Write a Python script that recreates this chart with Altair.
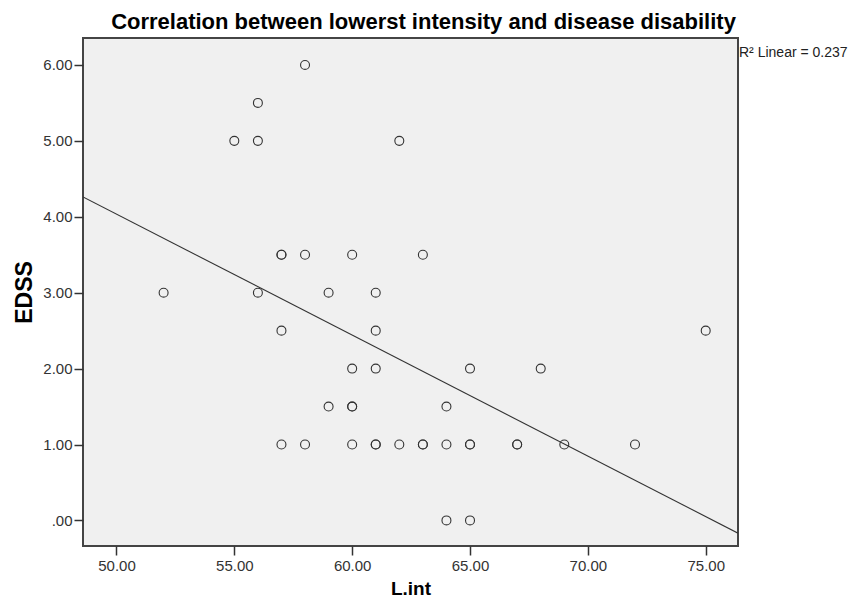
import altair as alt
import pandas as pd

# L.int values (x) and EDSS values (y); repeated pairs are overlapping cases
lint = [58, 56, 55, 56, 62,
        57, 57, 58, 60, 63,
        52, 56, 59, 61,
        57, 61, 75,
        60, 61, 65, 68,
        59, 60, 60, 64,
        57, 58, 60, 61, 61, 62, 63, 63, 64, 65, 65, 67, 67, 69, 72,
        64, 65]
edss = [6.0, 5.5, 5.0, 5.0, 5.0,
        3.5, 3.5, 3.5, 3.5, 3.5,
        3.0, 3.0, 3.0, 3.0,
        2.5, 2.5, 2.5,
        2.0, 2.0, 2.0, 2.0,
        1.5, 1.5, 1.5, 1.5,
        1.0, 1.0, 1.0, 1.0, 1.0, 1.0, 1.0, 1.0, 1.0, 1.0, 1.0, 1.0, 1.0, 1.0, 1.0,
        0.0, 0.0]

x_ticks = [50, 55, 60, 65, 70, 75]
y_ticks = [0, 1, 2, 3, 4, 5, 6]
r2_label = ["R² Linear = 0.237"]
title_text = "Correlation between lowerst intensity and disease disability"

df = pd.DataFrame({"lint": lint, "edss": edss})
xdom = [48.58, 76.37]
ydom = [-0.337, 6.355]

FONT = "Liberation Sans"

xenc = alt.X("lint:Q",
             scale=alt.Scale(domain=xdom, nice=False, zero=False),
             axis=alt.Axis(values=x_ticks, format=".2f", title="L.int",
                           titleFontSize=19, titlePadding=6))
yenc = alt.Y("edss:Q",
             scale=alt.Scale(domain=ydom, nice=False, zero=False),
             axis=alt.Axis(values=y_ticks, title="EDSS", titleFontSize=23,
                           titlePadding=6,
                           labelExpr="datum.value == 0 ? '.00' : format(datum.value, '.2f')"))

points = alt.Chart(df).mark_point(
    shape="circle", filled=False, size=80, stroke="#333333",
    strokeWidth=1.1, opacity=1
).encode(x=xenc, y=yenc)

fit = alt.Chart(df).transform_regression(
    "lint", "edss", extent=xdom
).mark_line(color="#333333", strokeWidth=1.1, clip=True).encode(
    x=alt.X("lint:Q"), y=alt.Y("edss:Q")
)

r2 = alt.Chart(pd.DataFrame({"label": r2_label})).mark_text(
    align="left", baseline="alphabetic", font=FONT, fontSize=14, color="#222222"
).encode(text="label:N", x=alt.value(656), y=alt.value(19))

chart = alt.layer(points, fit, r2).properties(
    width=655, height=508,
    title=alt.TitleParams(title_text, font=FONT, fontSize=22, fontWeight="bold",
                          color="#000000", anchor="middle", offset=4, dx=13),
    autosize=alt.AutoSizeParams(type="none"),
    padding={"left": 75, "top": 30, "right": 110, "bottom": 54},
).configure_view(
    fill="#F0F0F0", stroke="#444444", strokeWidth=2
).configure_axis(
    domain=False, grid=False,
    tickSize=9, tickColor="#333333", tickWidth=1.5,
    labelFont=FONT, labelFontSize=15, labelColor="#333333",
    titleFont=FONT, titleFontWeight="bold", titleColor="#000000",
).configure_axisX(
    labelPadding=3
).configure_axisY(
    labelPadding=2
)

chart.save("out.html", embed_options={"renderer": "svg", "actions": False})
